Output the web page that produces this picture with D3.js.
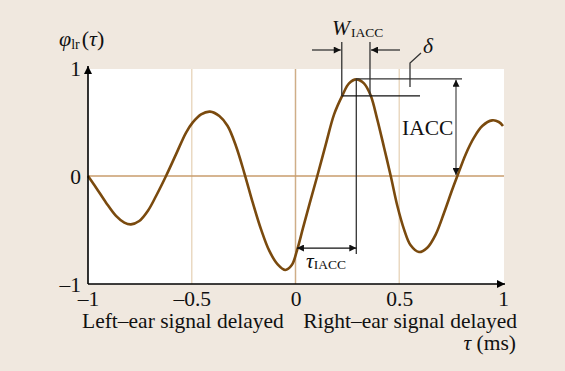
<!DOCTYPE html>
<html>
<head>
<meta charset="utf-8">
<script src="https://cdn.jsdelivr.net/npm/d3@7"></script>
<style>
  body { margin: 0; background: #f0e8df; }
  svg { display: block; }
  text { font-family: "Liberation Serif", "Times New Roman", serif; fill: #111; }
</style>
</head>
<body>
<div id="chart"></div>
<script>
var svgWidth = 565;
var svgHeight = 371;

// curve
var tauValues = [-1, -0.961, -0.913, -0.865, -0.825, -0.793, -0.753, -0.712, -0.672, -0.624,
  -0.576, -0.528, -0.496, -0.455, -0.412, -0.367, -0.327, -0.287, -0.247, -0.206,
  -0.166, -0.126, -0.086, -0.049, -0.018, 0.007, 0.035, 0.068, 0.105, 0.146, 0.186,
  0.226, 0.258, 0.293, 0.330, 0.362, 0.394, 0.427, 0.459, 0.491, 0.523,
  0.555, 0.595, 0.635, 0.676, 0.716, 0.756, 0.780, 0.820, 0.860, 0.900,
  0.948, 0.980, 1.0];
var phiValues = [0, -0.108, -0.247, -0.37, -0.432, -0.448, -0.417, -0.324, -0.185, 0,
  0.2, 0.40, 0.494, 0.571, 0.596, 0.556, 0.463, 0.278, 0.03, -0.247,
  -0.494, -0.694, -0.818, -0.87, -0.825, -0.69, -0.49, -0.255, 0, 0.293, 0.571,
  0.747, 0.858, 0.895, 0.858, 0.747, 0.525, 0.262, 0, -0.278, -0.494,
  -0.642, -0.704, -0.664, -0.54, -0.34, -0.123, 0, 0.2, 0.355, 0.463,
  0.515, 0.50, 0.463];

var xTicks = [-1, -0.5, 0, 0.5, 1];
var xTickLabels = ["–1", "–0.5", "0", "0.5", "1"];
var yTicks = [-1, 0, 1];
var yTickLabels = ["–1", "0", "1"];
var gridX = [-0.5, 0, 0.5];

// annotation values
var tauIACC = 0.293;
var peakIACC = 0.9;
var wLeft = 0.223;
var wRight = 0.359;
var deltaLevel = 0.741;
var tauArrowLevel = -0.667;

var fs = 21.5;

var x = d3.scaleLinear().domain([-1, 1]).range([88, 503]);
var y = d3.scaleLinear().domain([-1, 1]).range([284, 68]);

var svg = d3.select("#chart")
  .append("svg")
  .attr("width", svgWidth)
  .attr("height", svgHeight);

// arrow markers
var defs = svg.append("defs");
function addMarker(id, color, w, h) {
  defs.append("marker")
    .attr("id", id)
    .attr("viewBox", "0 0 10 10")
    .attr("refX", 10)
    .attr("refY", 5)
    .attr("markerUnits", "userSpaceOnUse")
    .attr("markerWidth", w)
    .attr("markerHeight", h)
    .attr("orient", "auto-start-reverse")
    .append("path")
    .attr("d", "M0,0L10,5L0,10Z")
    .attr("fill", color);
}
addMarker("axisArrow", "#000", 11, 8);
addMarker("annArrow", "#111", 9, 7);

// white plot area
svg.append("rect")
  .attr("x", x(-1))
  .attr("y", 69)
  .attr("width", 504 - x(-1))
  .attr("height", y(-1) - 69)
  .attr("fill", "#fff");

// vertical grid
svg.selectAll(".gridx")
  .data(gridX)
  .enter()
  .append("line")
  .attr("x1", d => x(d))
  .attr("x2", d => x(d))
  .attr("y1", 69)
  .attr("y2", y(-1))
  .attr("stroke", d => d === 0 ? "#cfae88" : "#ead9c2")
  .attr("stroke-width", 1.5);

// zero line
svg.append("line")
  .attr("x1", x(-1))
  .attr("x2", 504)
  .attr("y1", y(0))
  .attr("y2", y(0))
  .attr("stroke", "#c89c6c")
  .attr("stroke-width", 1.5);

// curve
var points = tauValues.map((t, i) => [t, phiValues[i]]);
var line = d3.line()
  .x(d => x(d[0]))
  .y(d => y(d[1]))
  .curve(d3.curveCatmullRom.alpha(0.5));

svg.append("path")
  .datum(points)
  .attr("d", line)
  .attr("fill", "none")
  .attr("stroke", "#7a4a0e")
  .attr("stroke-width", 2.6);

// axes (labels through d3 axes, lines drawn with arrows)
var xAxis = svg.append("g")
  .attr("transform", `translate(0, ${y(-1)})`)
  .call(d3.axisBottom(x)
    .tickValues(xTicks)
    .tickSize(0)
    .tickPadding(7)
    .tickFormat((d, i) => xTickLabels[i]));
xAxis.select(".domain").remove();
xAxis.attr("font-family", null);
xAxis.selectAll("text")
  .attr("fill", "#111")
  .attr("font-size", fs);

var yAxis = svg.append("g")
  .attr("transform", `translate(${x(-1) - 7}, 0)`)
  .call(d3.axisLeft(y)
    .tickValues(yTicks)
    .tickSize(0)
    .tickPadding(0)
    .tickFormat((d, i) => yTickLabels[i]));
yAxis.select(".domain").remove();
yAxis.attr("font-family", null);
yAxis.selectAll("text")
  .attr("fill", "#111")
  .attr("font-size", fs)
  .attr("dy", "0.33em");

svg.append("line")
  .attr("x1", x(-1))
  .attr("x2", x(1) + 2)
  .attr("y1", y(-1))
  .attr("y2", y(-1))
  .attr("stroke", "#000")
  .attr("stroke-width", 1.6)
  .attr("marker-end", "url(#axisArrow)");

svg.append("line")
  .attr("x1", x(-1))
  .attr("x2", x(-1))
  .attr("y1", y(-1))
  .attr("y2", y(1) - 2)
  .attr("stroke", "#000")
  .attr("stroke-width", 1.6)
  .attr("marker-end", "url(#axisArrow)");

// axis titles
var yTitle = svg.append("text")
  .attr("x", 59)
  .attr("y", 46)
  .attr("font-size", 22);
yTitle.append("tspan").attr("font-style", "italic").text("φ");
yTitle.append("tspan").attr("font-size", 14).attr("dy", 3).text("lr");
yTitle.append("tspan").attr("dy", -3).attr("dx", 2).text("(");
yTitle.append("tspan").attr("font-style", "italic").text("τ");
yTitle.append("tspan").text(")");

svg.append("text")
  .attr("x", 82)
  .attr("y", 328)
  .attr("font-size", fs)
  .text("Left–ear signal delayed");

svg.append("text")
  .attr("x", 517)
  .attr("y", 328)
  .attr("font-size", fs)
  .attr("text-anchor", "end")
  .text("Right–ear signal delayed");

var unit = svg.append("text")
  .attr("x", 516)
  .attr("y", 350)
  .attr("font-size", fs)
  .attr("text-anchor", "end");
unit.append("tspan").attr("font-style", "italic").text("τ");
unit.append("tspan").text(" (ms)");

// annotations
var ann = svg.append("g")
  .attr("stroke", "#333")
  .attr("stroke-width", 1.3)
  .attr("fill", "none");

// tau_IACC
ann.append("line")
  .attr("x1", x(tauIACC)).attr("x2", x(tauIACC))
  .attr("y1", y(peakIACC)).attr("y2", y(tauArrowLevel) + 6);
ann.append("line")
  .attr("x1", x(0.007)).attr("x2", x(tauIACC))
  .attr("y1", y(tauArrowLevel)).attr("y2", y(tauArrowLevel))
  .attr("stroke", "#111")
  .attr("marker-start", "url(#annArrow)")
  .attr("marker-end", "url(#annArrow)");

// IACC height
ann.append("line")
  .attr("x1", x(tauIACC)).attr("x2", 462)
  .attr("y1", y(peakIACC)).attr("y2", y(peakIACC));
ann.append("line")
  .attr("x1", 456).attr("x2", 456)
  .attr("y1", y(peakIACC) + 1).attr("y2", y(0) - 1)
  .attr("stroke", "#555")
  .attr("marker-start", "url(#annArrow)")
  .attr("marker-end", "url(#annArrow)");

// W_IACC and delta
ann.append("line")
  .attr("x1", x(wLeft)).attr("x2", 420)
  .attr("y1", y(deltaLevel)).attr("y2", y(deltaLevel))
  .attr("stroke", "#111");
[wLeft, wRight].forEach(function(w) {
  ann.append("line")
    .attr("x1", x(w)).attr("x2", x(w))
    .attr("y1", 42).attr("y2", y(deltaLevel));
});
ann.append("line")
  .attr("x1", 312).attr("x2", x(wLeft) - 1)
  .attr("y1", 50).attr("y2", 50)
  .attr("marker-end", "url(#annArrow)");
ann.append("line")
  .attr("x1", 400).attr("x2", x(wRight) + 1)
  .attr("y1", 50).attr("y2", 50)
  .attr("marker-end", "url(#annArrow)");
ann.append("path")
  .attr("d", "M410,87V63L421,53");

var wLabel = svg.append("text")
  .attr("x", 332)
  .attr("y", 35)
  .attr("font-size", fs);
wLabel.append("tspan").attr("font-style", "italic").text("W");
wLabel.append("tspan").attr("font-size", 13.5).attr("dy", 2).attr("dx", 1).text("IACC");

svg.append("text")
  .attr("x", 423)
  .attr("y", 53)
  .attr("font-size", fs)
  .attr("font-style", "italic")
  .text("δ");

svg.append("text")
  .attr("x", 402)
  .attr("y", 135)
  .attr("font-size", fs)
  .text("IACC");

var tLabel = svg.append("text")
  .attr("x", 306)
  .attr("y", 268)
  .attr("font-size", fs);
tLabel.append("tspan").attr("font-style", "italic").text("τ");
tLabel.append("tspan").attr("font-size", 13.5).attr("dy", 1).text("IACC");
</script>
</body>
</html>
